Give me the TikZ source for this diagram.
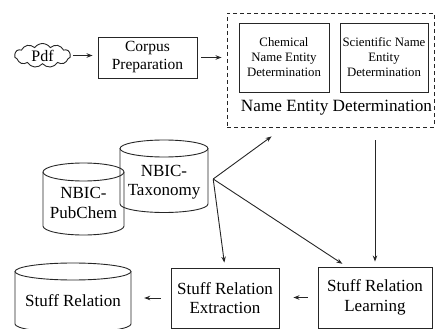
\documentclass[tikz,border=0pt]{standalone}
\usepackage{fontspec}
\setmainfont{Liberation Serif}
\usetikzlibrary{shapes.symbols,arrows.meta,calc}
\begin{document}
\begin{tikzpicture}[x=1pt,y=1pt,
  line/.style={line width=0.9pt, draw=black!85},
  box/.style={line, draw, inner sep=0pt, align=center, font=\fontsize{17}{19.5}\selectfont},
  smallbox/.style={line, draw, inner sep=0pt, align=center, font=\fontsize{12.8}{15}\selectfont},
  lbl/.style={inner sep=0pt, align=center, font=\fontsize{17}{19.5}\selectfont},
  arr/.style={line, -{Stealth[length=6pt,width=4.5pt]}},
  cyl/.style={line}
]
\useasboundingbox (0,0) rectangle (437,-329);
\clip (0,0) rectangle (437,-329);

% Pdf cloud
\node[cloud, line, draw, cloud puffs=11, cloud puff arc=110, aspect=2.4,
      minimum width=56pt, minimum height=24pt, inner sep=0pt] (pdf) at (42.5,-55.5) {};
\node[lbl, font=\fontsize{16}{18}\selectfont] (pdft) at (pdf.center) {Pdf};

% Corpus preparation
\node[box, font=\fontsize{15.5}{18}\selectfont, minimum width=99pt, minimum height=41pt] (corpus) at (147.5,-57.5) {Corpus\\Preparation};

% Name entity determination group
\node[line, draw, dash pattern=on 4pt off 3pt, minimum width=207pt, minimum height=114pt, inner sep=0pt] (ned) at (330.5,-70) {};
\node[smallbox, minimum width=90pt, minimum height=69pt] (chem) at (284,-57.5) {Chemical\\Name Entity\\Determination};
\node[smallbox, minimum width=88pt, minimum height=69pt] (sci) at (384,-57.5) {Scientific Name\\Entity\\Determination};
\node[inner sep=0pt, font=\fontsize{17.2}{20}\selectfont] (nedt) at (336.5,-108) {Name Entity Determination};

% NBIC-Taxonomy cylinder
\draw[cyl] (164,-148.5) ellipse [x radius=44pt, y radius=8.5pt];
\draw[cyl] (120,-148.5) -- (120,-204) arc[start angle=180, end angle=360, x radius=44pt, y radius=8.5pt] -- (208,-148.5);
\node[lbl, minimum width=88pt] (tax) at (164,-182) {NBIC-\\Taxonomy};

% NBIC-PubChem cylinder
\draw[cyl] (83.5,-172) ellipse [x radius=40.5pt, y radius=9pt];
\draw[cyl] (43,-172) -- (43,-226) arc[start angle=180, end angle=360, x radius=40.5pt, y radius=9pt] -- (124,-172);
\node[lbl, minimum width=81pt] (pub) at (83.5,-203) {NBIC-\\PubChem};

% Stuff Relation cylinder
\draw[cyl] (73,-271.5) ellipse [x radius=58pt, y radius=8.5pt];
\draw[cyl] (15,-271.5) -- (15,-324) arc[start angle=180, end angle=360, x radius=58pt, y radius=8.5pt] -- (131,-271.5);
\node[lbl, minimum width=116pt] (srel) at (73,-301) {Stuff Relation};

% Bottom boxes
\node[box, minimum width=108pt, minimum height=60pt] (extr) at (225,-298) {Stuff Relation\\Extraction};
\node[box, minimum width=114pt, minimum height=61pt] (learn) at (375,-297.5) {Stuff Relation\\Learning};

% Connectors
\coordinate (hub) at ($(tax.east)+(5,3)$);
\coordinate (t1) at ($(ned.south west)+(45,-9)$);
\coordinate (t3) at ($(learn.north west)+(29,0)$);

\draw[arr, shorten <=2pt, shorten >=5pt] (pdf.east) -- (pdf.east -| corpus.west);
\draw[arr, shorten <=4pt, shorten >=5pt] (corpus.east) -- (corpus.east -| ned.west);
\draw[arr] (hub) -- (t1);
\draw[arr, shorten >=5pt] (hub) -- (extr.north);
\draw[arr, shorten >=5pt] (hub) -- (t3);
\draw[arr, shorten <=13pt, shorten >=5pt] (learn.north |- ned.south) -- (learn.north);
\draw[arr, shorten <=10pt, shorten >=14pt] (learn.west) -- (learn.west -| extr.east);
\draw[arr, shorten <=10pt, shorten >=13pt] (extr.west) -- (extr.west -| srel.east);
\end{tikzpicture}
\end{document}
